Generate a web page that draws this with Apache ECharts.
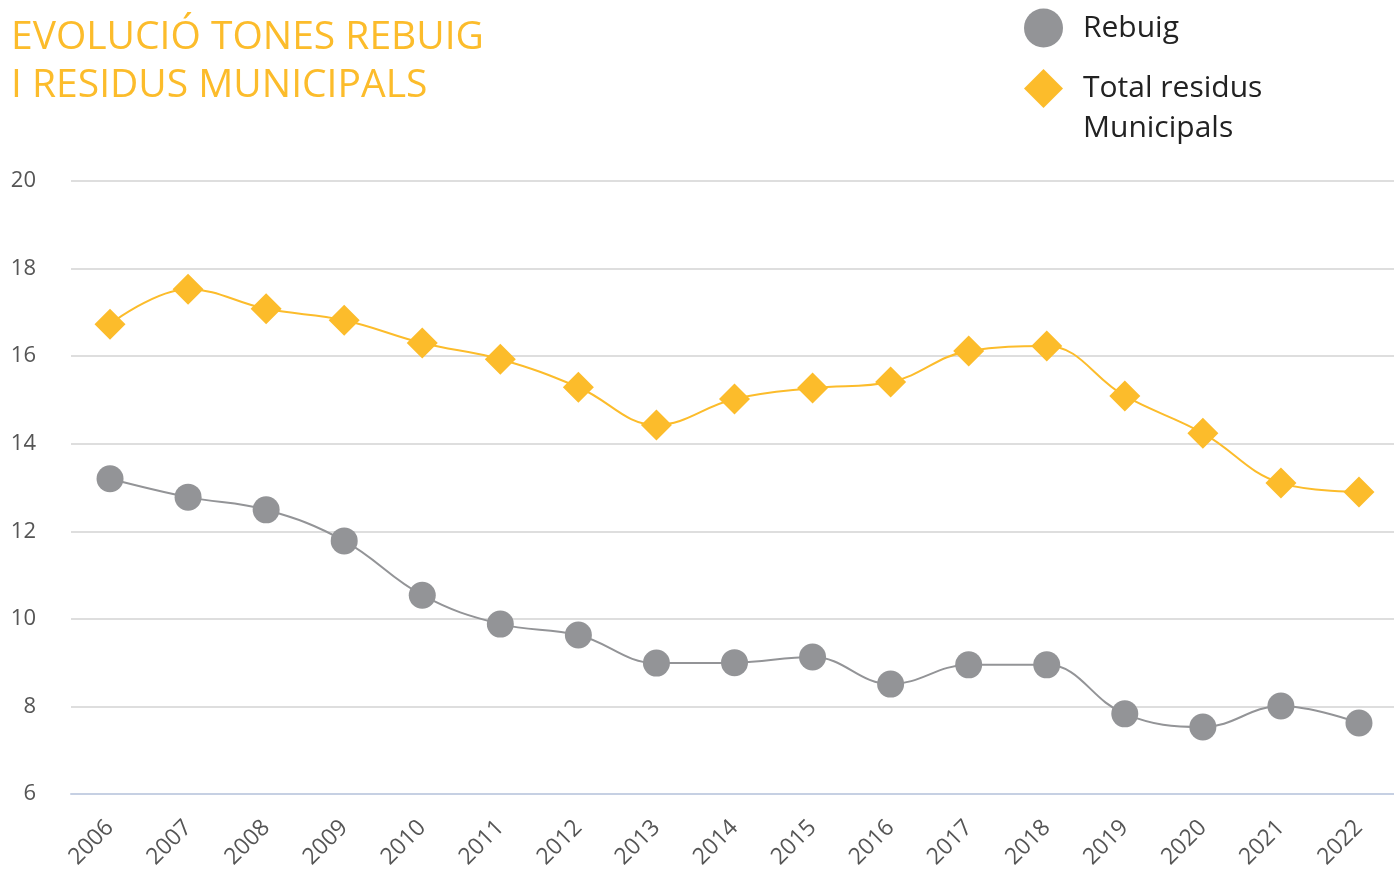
<!DOCTYPE html>
<html>
<head>
<meta charset="utf-8">
<script src="https://cdn.jsdelivr.net/npm/echarts@6/dist/echarts.min.js"></script>
<style>
  html, body { margin: 0; padding: 0; background: #fff; }
  #main { width: 1394px; height: 872px; }
</style>
</head>
<body>
<div id="main"></div>
<script>
// dades
var anys = ['2006', '2007', '2008', '2009', '2010', '2011', '2012', '2013', '2014',
            '2015', '2016', '2017', '2018', '2019', '2020', '2021', '2022'];
var rebuig = [13.2, 12.78, 12.49, 11.78, 10.54, 9.88, 9.63, 8.99, 9.0,
              9.13, 8.51, 8.95, 8.95, 7.83, 7.53, 8.01, 7.62];
var totalResidus = [16.73, 17.53, 17.08, 16.82, 16.3, 15.93, 15.29, 14.43, 15.02,
                    15.27, 15.41, 16.12, 16.23, 15.09, 14.24, 13.1, 12.9];

var groc = '#FCBC2B';
var gris = '#939497';
var font = 'Open Sans';

var myChart = echarts.init(document.getElementById('main'));

var option = {
    backgroundColor: '#fff',
    animation: false,
    title: {
        text: 'EVOLUCIÓ TONES REBUIG\nI RESIDUS MUNICIPALS',
        left: 6,
        top: 9,
        textStyle: {
            color: groc,
            fontFamily: font,
            fontWeight: 'normal',
            fontSize: 39,
            lineHeight: 48
        }
    },
    legend: {
        orient: 'vertical',
        left: 1024,
        top: 8,
        padding: 0,
        itemWidth: 39,
        itemHeight: 39,
        itemGap: -19.5,
        // la icona queda alineada amb la primera línia del text
        formatter: function (name) {
            return name.indexOf('\n') >= 0 ? ' \n' + name : name;
        },
        textStyle: {
            color: '#222',
            fontFamily: font,
            fontSize: 30,
            lineHeight: 40,
            padding: [0, 0, 0, 15]
        },
        data: [
            { name: 'Rebuig', icon: 'circle' },
            { name: 'Total residus\nMunicipals', icon: 'diamond' }
        ]
    },
    grid: {
        left: 71,
        width: 1327,
        top: 181,
        bottom: 78,
        outerBoundsMode: 'none'
    },
    xAxis: {
        type: 'category',
        data: anys,
        boundaryGap: true,
        axisLine: { lineStyle: { color: '#c6d0e3', width: 2 } },
        axisTick: { show: false },
        axisLabel: {
            rotate: 45,
            margin: 30,
            color: '#555',
            fontFamily: font,
            fontSize: 23
        }
    },
    yAxis: {
        type: 'value',
        min: 6,
        max: 20,
        interval: 2,
        axisLine: { show: false },
        axisTick: { show: false },
        axisLabel: {
            margin: 35,
            color: '#555',
            fontFamily: font,
            fontSize: 22,
            padding: [6, 0, 0, 0]
        },
        splitLine: { lineStyle: { color: '#dedede', width: 2 } }
    },
    series: [
        {
            name: 'Rebuig',
            type: 'line',
            data: rebuig,
            smooth: 0.4,
            symbol: 'circle',
            symbolSize: 27,
            itemStyle: { color: gris },
            lineStyle: { color: gris, width: 2 }
        },
        {
            name: 'Total residus\nMunicipals',
            type: 'line',
            data: totalResidus,
            smooth: 0.4,
            symbol: 'diamond',
            symbolSize: 31,
            itemStyle: { color: groc },
            lineStyle: { color: groc, width: 2 }
        }
    ]
};

myChart.setOption(option);
</script>
</body>
</html>
